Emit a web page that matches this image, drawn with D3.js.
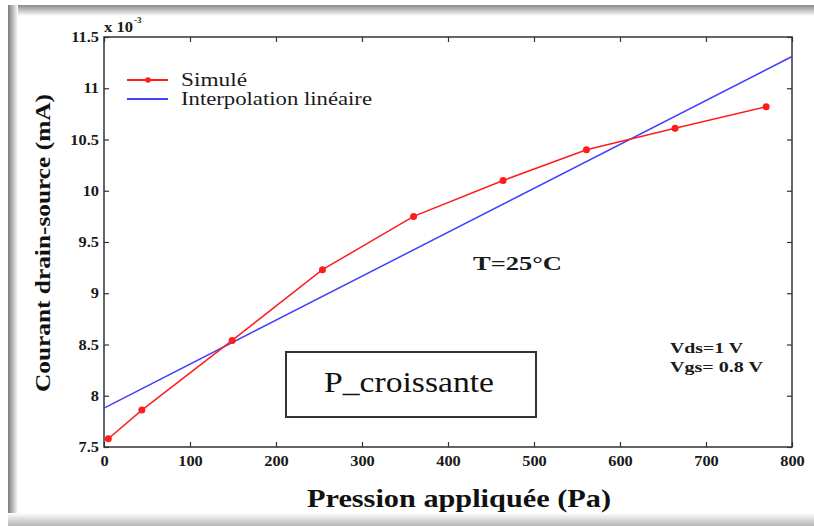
<!DOCTYPE html>
<html>
<head>
<meta charset="utf-8">
<script src="https://cdn.jsdelivr.net/npm/d3@7"></script>
<style>
    body { margin: 0; background: #fff; }
    svg { display: block; }
    text { font-family: "Liberation Serif", "DejaVu Serif", Tinos, "Times New Roman", serif; }
</style>
</head>
<body>
<div id="graphContainer"></div>
<script>
"use strict";

// Values
const pressure = [5, 44, 149, 254, 360, 464, 561, 664, 770];           // Pa
const courant = [7.58, 7.86, 8.54, 9.23, 9.75, 10.10, 10.40, 10.61, 10.82]; // x 10^-3 mA
const interpPressure = [0, 800];
const interpCourant = [7.88, 11.31];
const xTicks = [0, 100, 200, 300, 400, 500, 600, 700, 800];
const yTicks = [7.5, 8, 8.5, 9, 9.5, 10, 10.5, 11, 11.5];
const seriesNames = ["Simulé", "Interpolation linéaire"];

const graphInfo = {
    width: 814,
    height: 526,
    marginLeft: 104,
    marginRight: 22,
    marginTop: 37,
    marginBottom: 79,
    red: "#ff1c1c",
    blue: "#4040ff",
    axisColor: "#333",
    textColor: "#1a1a1a"
};

const svg = d3.select("#graphContainer").append("svg")
    .attr("width", graphInfo.width)
    .attr("height", graphInfo.height);

const x0 = graphInfo.marginLeft, x1 = graphInfo.width - graphInfo.marginRight;
const y0 = graphInfo.height - graphInfo.marginBottom, y1 = graphInfo.marginTop;

const xScale = d3.scaleLinear().domain([0, 800]).range([x0, x1]);
const yScale = d3.scaleLinear().domain([7.5, 11.5]).range([y0, y1]);

// Page frame with its soft shadow
const defs = svg.append("defs");
function Gradient(id, xa, ya, xb, yb, c0, c1) {
    const g = defs.append("linearGradient").attr("id", id)
        .attr("x1", xa).attr("y1", ya).attr("x2", xb).attr("y2", yb);
    g.append("stop").attr("offset", 0).attr("stop-color", c0);
    g.append("stop").attr("offset", 1).attr("stop-color", c1);
}
Gradient("gTop", 0, 0, 0, 1, "#8a8a8a", "#fff");
Gradient("gLeft", 0, 0, 1, 0, "#7a7a7a", "#fff");
Gradient("gBottom", 0, 0, 0, 1, "#fff", "#b4b4b4");

svg.append("rect").attr("x", 8).attr("y", 5).attr("width", 806).attr("height", 11).attr("fill", "url(#gTop)");
svg.append("rect").attr("x", 8).attr("y", 5).attr("width", 10).attr("height", 521).attr("fill", "url(#gLeft)");
svg.append("rect").attr("x", 8).attr("y", 513).attr("width", 806).attr("height", 13).attr("fill", "url(#gBottom)");

// Axes: ticks point inwards on all four sides
function StyleAxis(g) {
    g.attr("font-family", null);
    g.select(".domain").remove();
    g.selectAll(".tick line").attr("stroke", graphInfo.axisColor).attr("stroke-width", 1.2);
    g.selectAll(".tick text")
        .attr("class", "sx")
        .attr("fill", graphInfo.textColor)
        .attr("font-weight", "bold")
        .attr("font-size", 14.5);
}

svg.append("g")
    .attr("transform", `translate(0,${y0})`)
    .call(d3.axisBottom(xScale).tickValues(xTicks).tickSizeInner(-5).tickSizeOuter(0).tickPadding(9))
    .call(StyleAxis);

svg.append("g")
    .attr("transform", `translate(${x0},0)`)
    .call(d3.axisLeft(yScale).tickValues(yTicks).tickSizeInner(-5).tickSizeOuter(0).tickPadding(5).tickFormat(d3.format("")))
    .call(StyleAxis);

svg.append("g")
    .attr("transform", `translate(0,${y1})`)
    .call(d3.axisTop(xScale).tickValues(xTicks).tickSizeInner(-5).tickSizeOuter(0).tickFormat(""))
    .call(StyleAxis);

svg.append("g")
    .attr("transform", `translate(${x1},0)`)
    .call(d3.axisRight(yScale).tickValues(yTicks).tickSizeInner(-5).tickSizeOuter(0).tickFormat(""))
    .call(StyleAxis);

svg.append("rect")
    .attr("x", x0).attr("y", y1)
    .attr("width", x1 - x0).attr("height", y0 - y1)
    .attr("fill", "none")
    .attr("stroke", graphInfo.axisColor)
    .attr("stroke-width", 1.5);

// Exponent label above the y-axis
svg.append("text")
    .attr("x", 104).attr("y", 32)
    .attr("font-weight", "bold").attr("font-size", 15)
    .attr("fill", graphInfo.textColor)
    .attr("textLength", 29).attr("lengthAdjust", "spacingAndGlyphs")
    .text("x 10");
svg.append("text")
    .attr("x", 134).attr("y", 23)
    .attr("font-weight", "bold").attr("font-size", 9)
    .attr("fill", graphInfo.textColor)
    .text("-3");

// Linear interpolation
const line = d3.line()
    .x(d => xScale(d.x))
    .y(d => yScale(d.y));

const interpData = interpPressure.map((p, i) => ({ x: p, y: interpCourant[i] }));
const simData = pressure.map((p, i) => ({ x: p, y: courant[i] }));

svg.append("path")
    .datum(interpData)
    .attr("fill", "none")
    .attr("stroke", graphInfo.blue)
    .attr("stroke-width", 1.5)
    .attr("d", line);

// Simulated points
svg.append("path")
    .datum(simData)
    .attr("fill", "none")
    .attr("stroke", graphInfo.red)
    .attr("stroke-width", 1.5)
    .attr("d", line);

svg.append("g")
    .attr("fill", graphInfo.red)
    .selectAll("circle")
    .data(simData)
    .join("circle")
    .attr("cx", d => xScale(d.x))
    .attr("cy", d => yScale(d.y))
    .attr("r", 3.5);

// Legend
const legend = svg.append("g").attr("transform", "translate(127,0)");
[graphInfo.red, graphInfo.blue].forEach(function (c, i) {
    const ly = 80 + i * 19;
    legend.append("line")
        .attr("x1", 0).attr("x2", 41).attr("y1", ly).attr("y2", ly)
        .attr("stroke", c).attr("stroke-width", 1.8);
    if (i == 0) {
        legend.append("circle").attr("cx", 21).attr("cy", ly).attr("r", 2.8).attr("fill", c);
    }
    legend.append("text")
        .attr("x", 54).attr("y", ly + 6)
        .attr("font-size", 18)
        .attr("fill", graphInfo.textColor)
        .attr("textLength", i == 0 ? 66 : 191)
        .attr("lengthAdjust", "spacingAndGlyphs")
        .text(seriesNames[i]);
});

// Annotations
svg.append("text")
    .attr("x", 473).attr("y", 270)
    .attr("font-weight", "bold").attr("font-size", 19)
    .attr("fill", graphInfo.textColor)
    .attr("textLength", 89).attr("lengthAdjust", "spacingAndGlyphs")
    .text("T=25°C");

svg.append("text")
    .attr("x", 670).attr("y", 353)
    .attr("font-weight", "bold").attr("font-size", 15.5)
    .attr("fill", graphInfo.textColor)
    .attr("textLength", 73).attr("lengthAdjust", "spacingAndGlyphs")
    .text("Vds=1 V");

svg.append("text")
    .attr("x", 670).attr("y", 372)
    .attr("font-weight", "bold").attr("font-size", 15.5)
    .attr("fill", graphInfo.textColor)
    .attr("textLength", 93).attr("lengthAdjust", "spacingAndGlyphs")
    .text("Vgs= 0.8 V");

svg.append("rect")
    .attr("x", 286).attr("y", 352)
    .attr("width", 250).attr("height", 65)
    .attr("fill", "#fff")
    .attr("stroke", "#333")
    .attr("stroke-width", 2);

svg.append("text")
    .attr("x", 324).attr("y", 392)
    .attr("font-size", 29)
    .attr("fill", "#111")
    .attr("textLength", 170).attr("lengthAdjust", "spacingAndGlyphs")
    .text("P_croissante");

// Axis titles
svg.append("text")
    .attr("x", 307).attr("y", 507)
    .attr("font-weight", "bold").attr("font-size", 25)
    .attr("fill", "#111")
    .attr("textLength", 304).attr("lengthAdjust", "spacingAndGlyphs")
    .text("Pression appliquée (Pa)");

svg.append("text")
    .attr("transform", "translate(50,243) rotate(-90)")
    .attr("text-anchor", "middle")
    .attr("font-weight", "bold").attr("font-size", 22)
    .attr("fill", "#111")
    .attr("textLength", 298).attr("lengthAdjust", "spacingAndGlyphs")
    .text("Courant  drain-source  (mA)");

// The reference is a bit stretched horizontally, do the same for tick labels
svg.selectAll("text.sx").each(function () {
    const w = this.getComputedTextLength();
    d3.select(this).attr("textLength", w * 1.13).attr("lengthAdjust", "spacingAndGlyphs");
});
</script>
</body>
</html>
